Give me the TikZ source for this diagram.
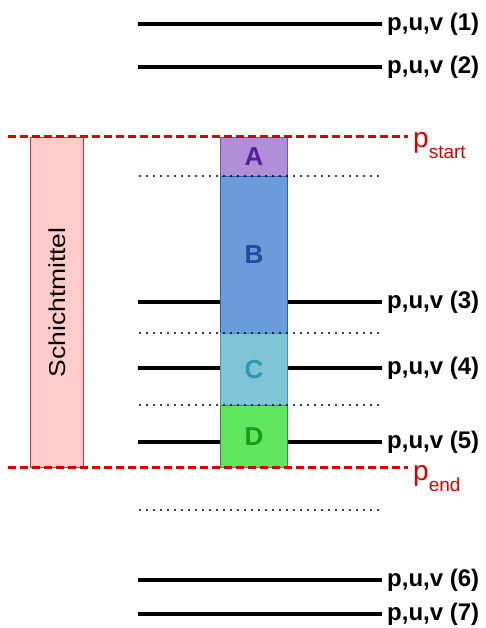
\documentclass[tikz,border=0pt]{standalone}
\usepackage{fontspec}
\setmainfont{Liberation Sans}
\begin{document}
\begin{tikzpicture}[x=1pt,y=-1pt,
  level/.style={line width=4.5pt,black},
  sep/.style={line width=2.4pt,line cap=round,dash pattern=on 0pt off 7pt,black},
  bound/.style={dash pattern=on 8pt off 4pt,line width=3pt,red!85!black},
  lbl/.style={anchor=west,inner sep=0pt,font=\bfseries\fontsize{24}{24}\selectfont},
  plbl/.style={anchor=base west,inner sep=0pt,text=red!85!black,font=\fontsize{28}{28}\selectfont},
  part/.style={draw,line width=0.8pt,anchor=north west,inner sep=0pt,minimum width=67pt,font=\bfseries\fontsize{26}{26}\selectfont}]
\useasboundingbox (0,0) rectangle (485,628);
\definecolor{aFill}{HTML}{B18FD8}\definecolor{aTxt}{HTML}{5A1E96}\definecolor{aLine}{HTML}{7A4FB0}
\definecolor{bFill}{HTML}{6A9BDB}\definecolor{bTxt}{HTML}{1E4E9E}\definecolor{bLine}{HTML}{2F5FB0}
\definecolor{cFill}{HTML}{7EC4D6}\definecolor{cTxt}{HTML}{2A9AB4}\definecolor{cLine}{HTML}{3A9AB8}
\definecolor{dFill}{HTML}{5FE65F}\definecolor{dTxt}{HTML}{1C9A1C}\definecolor{dLine}{HTML}{2A9A2A}
\definecolor{sFill}{HTML}{FFCCCC}\definecolor{sLine}{HTML}{CC3333}

% model levels
\foreach \n/\y in {1/24,2/67,6/580,7/614}{
  \coordinate (l\n a) at (138,\y);
  \coordinate (l\n b) at (382,\y);
  \draw[level] (l\n a) -- (l\n b);
  \node[lbl] (t\n) at (387,\y) {p,u,v (\n)};
}
\foreach \n/\y in {3/302,4/368,5/442}{
  \coordinate (l\n a) at (138,\y);
  \coordinate (l\n c) at (220,\y);
  \coordinate (l\n d) at (287,\y);
  \coordinate (l\n b) at (382,\y);
  \draw[level] (l\n a) -- (l\n c);
  \draw[level] (l\n d) -- (l\n b);
  \node[lbl] (t\n) at (387,\y) {p,u,v (\n)};
}

% sub-layer columns
\node[part,fill=aFill,draw=aLine,text=aTxt,minimum height=39pt] (A) at (220,137) {A};
\node[part,fill=bFill,draw=bLine,text=bTxt,minimum height=157pt] (B) at (220,176) {B};
\node[part,fill=cFill,draw=cLine,text=cTxt,minimum height=72pt] (C) at (220,333) {C};
\node[part,fill=dFill,draw=dLine,text=dTxt,minimum height=62pt] (D) at (220,405) {D};

% layer mean
\node[draw=sLine,fill=sFill,line width=0.8pt,anchor=north west,minimum width=53pt,minimum height=330pt,inner sep=0pt] (S) at (30,137) {};
\node[rotate=90,font=\fontsize{23}{23}\selectfont] (St) at (S.center) {\scalebox{1.15}[1]{Schichtmittel}};

% boundaries between sub-layers
\foreach \k/\y in {1/176,2/333,3/405,4/510}{
  \coordinate (s\k a) at (140,\y);
  \coordinate (s\k b) at (382,\y);
  \draw[sep] (s\k a) -- (s\k b);
}

% pressure bounds
\coordinate (ps0) at (8,137);  \coordinate (ps1) at (408,137);
\coordinate (pe0) at (8,467);  \coordinate (pe1) at (408,467);
\draw[bound] (ps0) -- (ps1);
\draw[bound] (pe0) -- (pe1);
\node[plbl] (pst) at (413,148) {p\raisebox{-11pt}{\fontsize{19}{19}\selectfont start}};
\node[plbl] (pen) at (413,480) {p\raisebox{-11pt}{\fontsize{19}{19}\selectfont end}};
\end{tikzpicture}
\end{document}
